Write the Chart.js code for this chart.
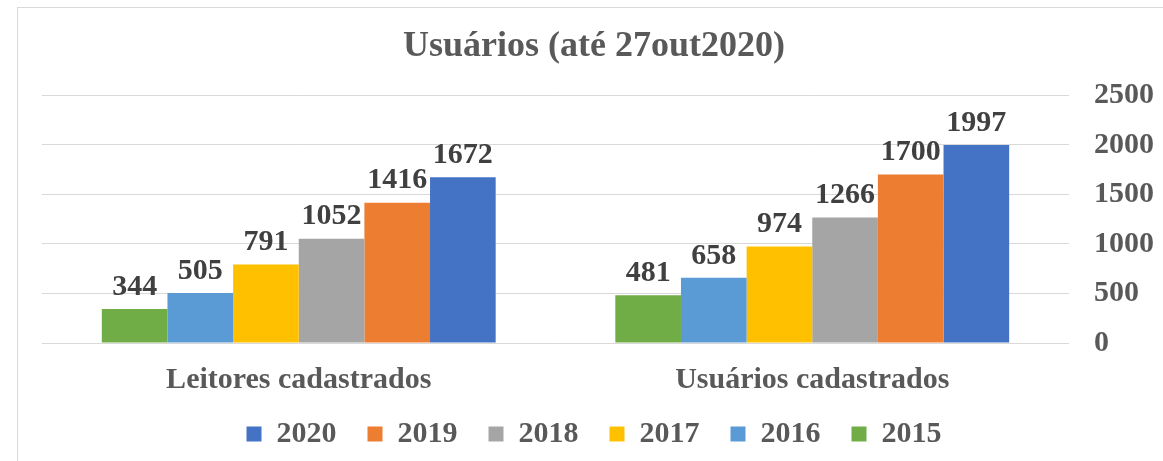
<!DOCTYPE html>
<html>
<head>
<meta charset="utf-8">
<script src="https://cdn.jsdelivr.net/npm/chart.js@4"></script>
<style>
  body { margin: 0; background: #fff; }
  #wrap { width: 1163px; height: 461px; }
</style>
</head>
<body>
<div id="wrap"><canvas id="myChart" width="1163" height="461"></canvas></div>
<script>
const categories = ["Leitores cadastrados", "Usuários cadastrados"];
const years = ["2015", "2016", "2017", "2018", "2019", "2020"];
const values2015 = [344, 481];
const values2016 = [505, 658];
const values2017 = [791, 974];
const values2018 = [1052, 1266];
const values2019 = [1416, 1700];
const values2020 = [1672, 1997];
const yTicks = [0, 500, 1000, 1500, 2000, 2500];

const colors = ["#70AD47", "#5B9BD5", "#FFC000", "#A5A5A5", "#ED7D31", "#4472C4"];
const series = [values2015, values2016, values2017, values2018, values2019, values2020];
const FONT = "'Liberation Serif', 'Times New Roman', serif";

// draws the value above each bar
const valueLabels = {
  id: "valueLabels",
  afterDatasetsDraw(chart) {
    const ctx = chart.ctx;
    ctx.save();
    ctx.font = "bold 30px " + FONT;
    ctx.fillStyle = "#404040";
    ctx.textAlign = "center";
    ctx.textBaseline = "bottom";
    chart.data.datasets.forEach((ds, i) => {
      chart.getDatasetMeta(i).data.forEach((bar, j) => {
        ctx.fillText(ds.data[j], bar.x, bar.y - 7);
      });
    });
    ctx.restore();
  }
};

// light frame like the original chart box
const frame = {
  id: "frame",
  beforeDraw(chart) {
    const ctx = chart.ctx;
    ctx.save();
    ctx.strokeStyle = "#d9d9d9";
    ctx.lineWidth = 1;
    ctx.strokeRect(17.5, 7.5, 1300, 600);
    ctx.restore();
  }
};

new Chart(document.getElementById("myChart"), {
  type: "bar",
  data: {
    labels: categories,
    datasets: years.map((y, i) => ({
      label: y,
      data: series[i],
      yAxisID: "y",
      backgroundColor: colors[i],
      borderWidth: 0,
      categoryPercentage: 0.767,
      barPercentage: 1.0
    }))
  },
  options: {
    responsive: false,
    animation: false,
    layout: { padding: { left: 25, right: 0, top: 0, bottom: 2 } },
    plugins: {
      title: {
        display: true,
        text: "Usuários (até 27out2020)",
        color: "#595959",
        font: { family: FONT, size: 36, weight: "bold" },
        padding: { top: 25, bottom: 27 }
      },
      legend: {
        position: "bottom",
        reverse: true,
        labels: {
          boxWidth: 15,
          boxHeight: 15,
          padding: 31,
          color: "#595959",
          font: { family: FONT, size: 30, weight: "bold" }
        }
      },
      tooltip: { enabled: false }
    },
    scales: {
      x: {
        grid: { display: false },
        border: { display: false },
        ticks: {
          color: "#595959",
          padding: 11,
          font: { family: FONT, size: 30, weight: "bold" }
        },
        afterFit(scale) { scale.height = 45; }
      },
      // empty spacer on the left so the plot starts inside the frame
      yl: {
        type: "linear",
        position: "left",
        min: 0,
        max: 1,
        grid: { display: false },
        border: { display: false },
        ticks: { display: false },
        afterFit(scale) { scale.width = 17; }
      },
      y: {
        position: "right",
        min: 0,
        max: 2500,
        afterBuildTicks(scale) { scale.ticks = yTicks.map(v => ({ value: v })); },
        grid: { color: "#d9d9d9", drawTicks: false },
        border: { display: false },
        ticks: {
          color: "#595959",
          padding: 25,
          font: { family: FONT, size: 30, weight: "bold" },
          callback: (v) => String(v)
        },
        afterFit(scale) { scale.width = 94; }
      }
    }
  },
  plugins: [frame, valueLabels]
});
</script>
</body>
</html>
